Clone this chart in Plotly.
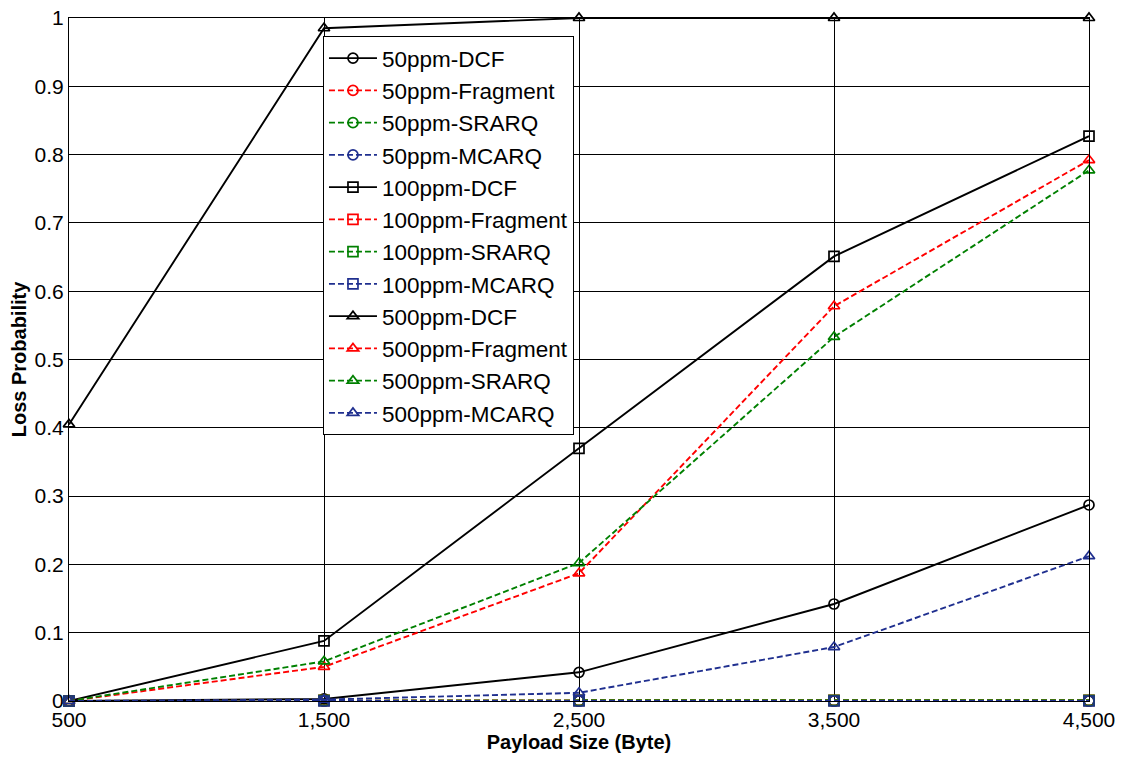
import plotly.graph_objects as go

payload = [500, 1500, 2500, 3500, 4500]

dcf_50 = [0.0, 0.003, 0.042, 0.142, 0.287]
frag_50 = [0.0, 0.0, 0.0, 0.0, 0.0]
srarq_50 = [0.0, 0.0, 0.0, 0.0, 0.0]
mcarq_50 = [0.0, 0.0, 0.0, 0.0, 0.0]
dcf_100 = [0.0, 0.088, 0.370, 0.651, 0.827]
frag_100 = [0.0, 0.001, 0.001, 0.001, 0.001]
srarq_100 = [0.0, 0.001, 0.001, 0.001, 0.001]
mcarq_100 = [0.0, 0.0, 0.0, 0.0, 0.0]
dcf_500 = [0.405, 0.985, 1.0, 1.0, 1.0]
frag_500 = [0.0, 0.050, 0.187, 0.578, 0.792]
srarq_500 = [0.0, 0.058, 0.202, 0.533, 0.777]
mcarq_500 = [0.0, 0.002, 0.012, 0.079, 0.212]

x_ticks = [500, 1500, 2500, 3500, 4500]
x_labels = ["500", "1,500", "2,500", "3,500", "4,500"]
y_ticks = [0, 0.1, 0.2, 0.3, 0.4, 0.5, 0.6, 0.7, 0.8, 0.9, 1]
y_labels = ["0", "0.1", "0.2", "0.3", "0.4", "0.5", "0.6", "0.7", "0.8", "0.9", "1"]

BLACK = "#000000"
RED = "#ff0000"
GREEN = "#008000"
BLUE = "#1f2f8f"

series = [
    ("50ppm-DCF", dcf_50, BLACK, "circle-open", "solid"),
    ("50ppm-Fragment", frag_50, RED, "circle-open", "dash"),
    ("50ppm-SRARQ", srarq_50, GREEN, "circle-open", "dash"),
    ("50ppm-MCARQ", mcarq_50, BLUE, "circle-open", "dash"),
    ("100ppm-DCF", dcf_100, BLACK, "square-open", "solid"),
    ("100ppm-Fragment", frag_100, RED, "square-open", "dash"),
    ("100ppm-SRARQ", srarq_100, GREEN, "square-open", "dash"),
    ("100ppm-MCARQ", mcarq_100, BLUE, "square-open", "dash"),
    ("500ppm-DCF", dcf_500, BLACK, "triangle-up-open", "solid"),
    ("500ppm-Fragment", frag_500, RED, "triangle-up-open", "dash"),
    ("500ppm-SRARQ", srarq_500, GREEN, "triangle-up-open", "dash"),
    ("500ppm-MCARQ", mcarq_500, BLUE, "triangle-up-open", "dash"),
]

fig = go.Figure()
for i, (name, vals, col, sym, dash) in enumerate(series):
    fig.add_trace(go.Scatter(
        x=payload, y=vals, name=name, mode="lines+markers",
        line=dict(color=col, width=1.9, dash="6px,3px" if dash == "dash" else "solid"),
        marker=dict(symbol=sym, size=10, color=col, line=dict(color=col, width=1.7)),
        cliponaxis=False,
    ))

FONT = "Liberation Sans, Arial, sans-serif"
fig.update_layout(
    width=1126, height=761,
    paper_bgcolor="white", plot_bgcolor="white",
    margin=dict(l=69, r=37, t=18, b=60, autoexpand=False),
    font=dict(family=FONT, size=21, color="black"),
    showlegend=True,
    legend=dict(
        x=0.249, y=0.9736, xanchor="left", yanchor="top",
        bgcolor="white", bordercolor="black", borderwidth=1,
        font=dict(family=FONT, size=22.5, color="black"),
        traceorder="normal", itemwidth=48,
    ),
    xaxis=dict(
        range=[500, 4500], tickvals=x_ticks, ticktext=x_labels,
        showgrid=True, gridcolor="black", gridwidth=1,
        showline=True, linecolor="black", linewidth=1, mirror=True,
        zeroline=False, ticks="", automargin=False, ticklabeloverflow="allow",
        tickfont=dict(family=FONT, size=21),
        title=dict(text="<b>Payload Size (Byte)</b>",
                   font=dict(family=FONT, size=20),
                   standoff=2),
    ),
    yaxis=dict(
        range=[0, 1], tickvals=y_ticks, ticktext=y_labels,
        showgrid=True, gridcolor="black", gridwidth=1,
        showline=True, linecolor="black", linewidth=1, mirror=True,
        zeroline=False, ticks="", automargin=False, ticklabeloverflow="allow",
        tickfont=dict(family=FONT, size=21),
        title=dict(text="<b>Loss Probability</b>",
                   font=dict(family=FONT, size=20),
                   standoff=2),
    ),
)

# remove the browser's default 8px body margin so the figure fills the window exactly
fig.write_html(
    "out.html",
    config={"displayModeBar": False},
    post_script="document.body.style.margin='0';document.body.style.overflow='hidden';",
)
